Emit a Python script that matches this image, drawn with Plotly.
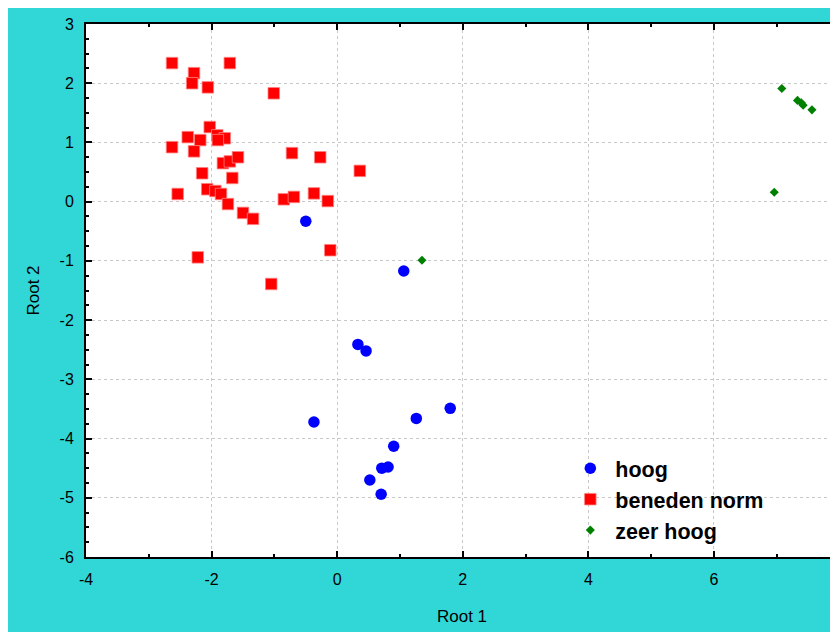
import plotly.graph_objects as go

# --- data ---
hoog_x = [-0.50, 1.06, 0.33, 0.46, -0.37, 1.26, 1.80, 0.90, 0.81, 0.71, 0.52, 0.70]
hoog_y = [-0.33, -1.17, -2.41, -2.52, -3.72, -3.66, -3.49, -4.13, -4.48, -4.50, -4.70, -4.94]

beneden_x = [-2.63, -1.71, -2.28, -2.31, -2.06, -1.01, -2.03, -1.91, -1.79, -1.90,
             -2.18, -2.38, -2.63, -2.28, -1.82, -1.71, -1.58, -0.72, -0.27, 0.36,
             -2.15, -1.67, -2.54, -2.07, -1.94, -1.85, -1.74, -1.50, -1.34, -0.85,
             -0.69, -0.37, -0.15, -2.22, -0.11, -1.05]
beneden_y = [2.34, 2.34, 2.17, 2.00, 1.93, 1.83, 1.26, 1.12, 1.07, 1.04,
             1.04, 1.09, 0.92, 0.85, 0.65, 0.68, 0.75, 0.82, 0.75, 0.52,
             0.48, 0.40, 0.13, 0.21, 0.18, 0.13, -0.04, -0.19, -0.29, 0.04,
             0.08, 0.14, 0.01, -0.94, -0.82, -1.39]

zeer_x = [1.35, 7.08, 7.33, 7.39, 7.42, 7.56, 6.96]
zeer_y = [-0.99, 1.91, 1.71, 1.67, 1.63, 1.55, 0.16]

x_ticks = [-4, -2, 0, 2, 4, 6]
y_ticks = [3, 2, 1, 0, -1, -2, -3, -4, -5, -6]

FONT = "Liberation Sans, Arial, sans-serif"
CYAN = "#31D7D7"

fig = go.Figure()
fig.add_trace(go.Scatter(x=hoog_x, y=hoog_y, mode="markers", name="hoog",
                         marker=dict(symbol="circle", size=11.5, color="#0000FF")))
fig.add_trace(go.Scatter(x=beneden_x, y=beneden_y, mode="markers", name="beneden norm",
                         marker=dict(symbol="square", size=11.5, color="#FF0000",
                                     line=dict(width=0.8, color="#FF8080"))))
fig.add_trace(go.Scatter(x=zeer_x, y=zeer_y, mode="markers", name="zeer hoog",
                         marker=dict(symbol="diamond", size=7, color="#008000")))

grid = dict(showgrid=True, gridcolor="#c8c8c8", griddash="dot", gridwidth=1, zeroline=False)

fig.update_layout(
    width=830, height=624,
    margin=dict(l=78, r=0, t=16, b=75),
    paper_bgcolor=CYAN, plot_bgcolor="white",
    font=dict(family=FONT, size=16, color="black"),
    showlegend=True,
    legend=dict(x=0.6374, y=0.205, xanchor="left", yanchor="top",
                bgcolor="rgba(0,0,0,0)",
                font=dict(family=FONT, size=21.5, color="black", weight="bold"),
                itemsizing="trace", itemwidth=40, tracegroupgap=0),
    xaxis=dict(range=[-4, 7.975], tickmode="array", tickvals=x_ticks,
               ticktext=[str(v) for v in x_ticks],
               ticks="inside", ticklen=6, tickwidth=2, tickcolor="black",
               ticklabelstandoff=7,
               showline=True, linecolor="black", linewidth=2, mirror="ticks",
               minor=dict(dtick=1, tick0=-4, ticks="inside", ticklen=3, tickwidth=1.5,
                          tickcolor="black", showgrid=False),
               title=dict(text="Root 1", standoff=23, font=dict(size=17)),
               **grid),
    yaxis=dict(range=[-6, 3], tickmode="array", tickvals=y_ticks,
               ticktext=[str(v) for v in y_ticks],
               ticks="inside", ticklen=6, tickwidth=2, tickcolor="black",
               ticklabelstandoff=7,
               showline=True, linecolor="black", linewidth=2,
               minor=dict(dtick=0.25, tick0=-6, ticks="inside", ticklen=3, tickwidth=1.5,
                          tickcolor="black", showgrid=False),
               title=dict(text="Root 2", standoff=16, font=dict(size=17)),
               **grid),
    yaxis2=dict(range=[-6, 3], overlaying="y", side="right", anchor="x",
                tickmode="array", tickvals=y_ticks, showticklabels=False,
                ticks="inside", ticklen=6, tickwidth=2, tickcolor="black",
                minor=dict(dtick=0.25, tick0=-6, ticks="inside", ticklen=3, tickwidth=1.5,
                           tickcolor="black", showgrid=False),
                showline=False, showgrid=False, zeroline=False),
    annotations=[
        dict(text="8", xref="paper", yref="paper", x=(831.6 - 78) / 752, y=0,
             yshift=-12, xanchor="center", yanchor="top", showarrow=False,
             font=dict(family=FONT, size=16, color="black")),
    ],
)

fig.write_html("out.html")
